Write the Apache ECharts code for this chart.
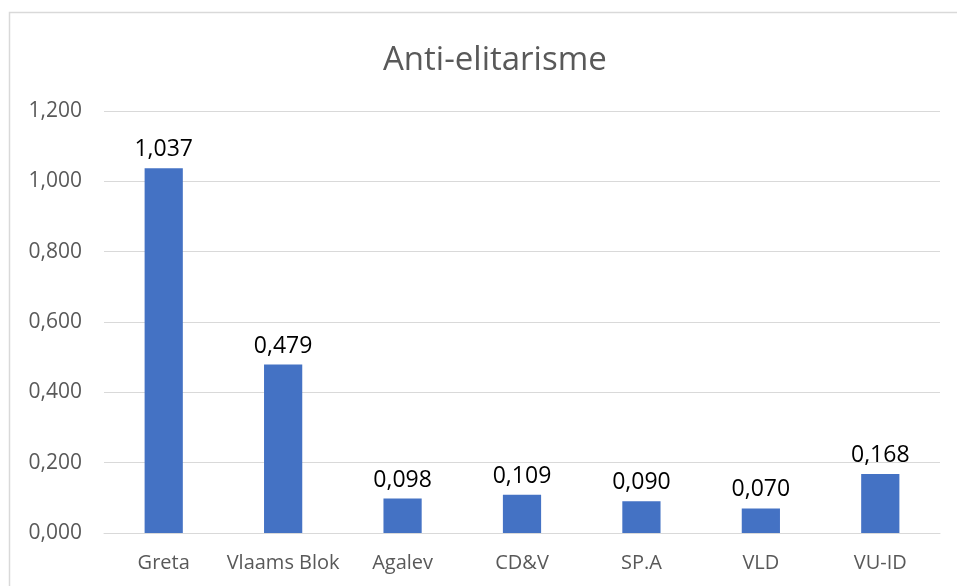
<!DOCTYPE html>
<html>
<head>
<meta charset="utf-8">
<script src="https://cdn.jsdelivr.net/npm/echarts@6/dist/echarts.min.js"></script>
<style>
  html, body { margin: 0; padding: 0; background: #fff; }
  #chart { width: 957px; height: 586px; }
</style>
</head>
<body>
<div id="chart"></div>
<script>
const categories = ['Greta', 'Vlaams Blok', 'Agalev', 'CD&V', 'SP.A', 'VLD', 'VU-ID'];
const values = [1.037, 0.479, 0.098, 0.109, 0.090, 0.070, 0.168];

const fmt = (v) => v.toFixed(3).replace('.', ',');
const font = '"Open Sans", "Liberation Sans", sans-serif';

const chart = echarts.init(document.getElementById('chart'));
chart.setOption({
    animation: false,
    backgroundColor: '#fff',
    title: {
        text: 'Anti-elitarisme',
        left: 378,
        top: 39,
        textStyle: { fontFamily: font, fontSize: 33, fontWeight: 'normal', color: '#595959' }
    },
    // chart border, like the Excel frame
    graphic: [{
        type: 'rect',
        shape: { x: 9.5, y: 12.5, width: 1000, height: 1000 },
        style: { fill: 'none', stroke: '#d9d9d9', lineWidth: 1.5 },
        silent: true
    }],
    grid: { left: 104, right: 17, top: 111, bottom: 53 },
    xAxis: {
        type: 'category',
        data: categories,
        axisTick: { show: false },
        axisLine: { show: true, lineStyle: { color: '#d9d9d9', width: 1 } },
        axisLabel: { interval: 0, fontFamily: font, fontSize: 20, color: '#595959', margin: 20 }
    },
    yAxis: {
        type: 'value',
        min: 0,
        max: 1.2,
        interval: 0.2,
        axisLine: { show: false },
        axisTick: { show: false },
        splitLine: { lineStyle: { color: '#d9d9d9', width: 1 } },
        axisLabel: { fontFamily: font, fontSize: 21, color: '#595959', margin: 22, formatter: fmt }
    },
    series: [{
        type: 'bar',
        data: values,
        barWidth: '32%',
        itemStyle: { color: '#4472c4' },
        label: {
            show: true,
            position: 'top',
            distance: 7,
            fontFamily: font,
            fontSize: 23,
            color: '#000',
            formatter: (p) => fmt(p.value)
        }
    }]
});
</script>
</body>
</html>
